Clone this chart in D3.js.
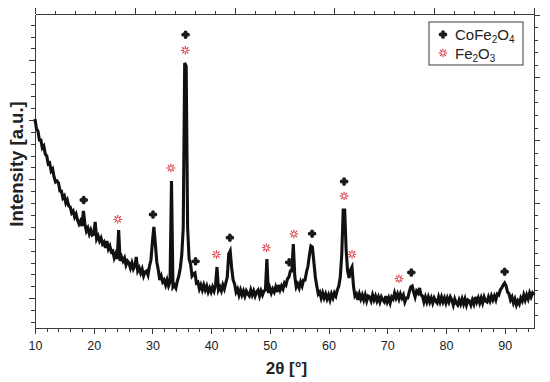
<!doctype html>
<html lang="en">
<head>
  <meta charset="utf-8">
  <title>XRD CoFe2O4 / Fe2O3</title>
  <style type="text/css">
    body{ margin:0; background:#fff; }
    text{ font-family: "Liberation Sans", Arial, Helvetica, sans-serif; fill:#222; }
    .axis path, .axis line{ stroke:#3a3a3a; stroke-width:1; shape-rendering:crispEdges; }
    .axis text{ font-size:12.5px; fill:#222; }
  </style>
</head>
<body>
  <div id="vis"></div>
  <script src="https://cdn.jsdelivr.net/npm/d3@7"></script>
  <script type="text/javascript">

    // scan: 2theta from 10 to 95 deg, step 0.25 (a.u.)
    var scanStart = 10, scanStep = 0.25;
    var intensity = [
      209,199,197,188, 188,180,182,174, 172,164,165,157, 159,151,146,147,
      145,137,137,130, 132,125,128,122, 121,115,117,111, 114,108,104,107,
      102,117,104,97, 100,94,98,93, 94,106,89,92, 87,90,84,86,
      80,87,79,82, 76,77,70,74, 69,98,67,71, 67,70,63,67,
      65,60,65,59, 62,71,57,60, 55,59,52,56, 57,53,62,68,
      86,101,84,66, 58,48,52,46, 48,43,48,42, 46,147,41,43,
      40,47,52,60, 73,100,265,262, 100,69,64,52, 54,55,45,46,
      39,43,38,43, 38,42,36,40, 36,41,37,43, 61,38,41,37,
      43,39,45,51, 74,77,60,48, 44,36,39,33, 38,33,37,32,
      37,34,32,38, 33,37,32,36, 38,32,37,33, 37,38,69,35,
      40,35,39,36, 41,36,43,38, 42,39,45,43, 49,51,57,57,
      84,52,41,44, 40,46,42,48, 48,56,62,73, 82,81,66,51,
      42,34,36,30, 35,30,34,29, 33,28,34,30, 35,32,38,42,
      51,73,118,118, 78,57,50,58, 61,42,32,34, 28,34,29,33,
      28,33,27,32, 31,27,33,28, 32,27,31,26, 31,28,26,32,
      26,30,25,31, 29,35,30,34, 29,34,30,33, 26,30,30,36,
      41,42,36,31, 37,35,40,33, 32,26,31,26, 31,26,30,25,
      30,27,25,31, 26,31,26,30, 25,30,26,31, 28,23,29,25,
      23,28,24,29, 24,29,23,28, 27,23,28,24, 31,26,30,25,
      30,25,31,27, 26,31,27,32, 28,32,28,34, 33,38,40,43,
      45,42,36,34, 28,31,25,29, 23,27,24,30, 27,33,28,33,
      29,35,31,35, 33
    ];

    // phase markers [2theta, height a.u.]
    var cofe2o4Marks = [[18.3,128],[30.1,113.5],[35.65,293.3],[37.35,66.7],[43.2,90.3],
                        [53.3,65.7],[57.2,94.3],[62.65,146.5],[74.1,55.5],[90.0,56.3]];
    var fe2o3Marks = [[24.1,108.7],[33.15,160],[35.6,277.7],[40.9,73.5],[49.4,80.3],
                      [54.1,94],[62.65,132],[64.0,73.7],[72.0,49.3]];

    var xTicks = [10,20,30,40,50,60,70,80,90];
    var xTitle = '2\u03b8 [\u00b0]', yTitle = 'Intensity [a.u.]';
    var legendItems = [{name:['CoFe','2','O','4'], kind:'co'}, {name:['Fe','2','O','3'], kind:'fe'}];

    var width = 550, height = 382;
    var margin = {left:35, right:16, top:14, bottom:54};
    var w = width - margin.left - margin.right, h = height - margin.top - margin.bottom;
    var red = '#d8323c';

    var svg = d3.select('#vis').append('svg').attr('width', width).attr('height', height);
    var g = svg.append('g').attr('transform', 'translate(' + margin.left + ',' + margin.top + ')');

    var x = d3.scaleLinear().domain([10, 95]).range([0, w]);
    var y = d3.scaleLinear().domain([0, 314]).range([h, 0]);

    // unlabeled frame scales (Origin style ticks)
    var topS = d3.scaleLinear().domain([0, 25]).range([0, w]);
    var leftS = d3.scaleLinear().domain([0, 26.4]).range([h, 0]);
    var rightS = d3.scaleLinear().domain([0, 25.06]).range([h, 0]);

    function addAxis(axis, tx, ty){
      return g.append('g').attr('class', 'axis').attr('transform', 'translate(' + tx + ',' + ty + ')').call(axis);
    }

    var xMinor = d3.range(12, 95, 2).filter(function(d){ return d % 10 != 0; });
    addAxis(d3.axisBottom(x).tickValues(xMinor).tickSize(4).tickSizeOuter(0).tickFormat(''), 0, h);
    var bx = addAxis(d3.axisBottom(x).tickValues(xTicks).tickSize(6).tickSizeOuter(0).tickFormat(d3.format('d')), 0, h);
    bx.selectAll('text').attr('y', 13).attr('dy', '0.71em');

    addAxis(d3.axisTop(topS).tickValues(d3.range(0, 26).filter(function(d){ return d % 5 != 0; })).tickSize(3).tickSizeOuter(0).tickFormat(''), 0, 0);
    addAxis(d3.axisTop(topS).tickValues([0,5,10,15,20,25]).tickSize(6).tickSizeOuter(0).tickFormat(''), 0, 0);

    var lv = d3.range(0.5, 26.4, 1);
    addAxis(d3.axisLeft(leftS).tickValues(lv.filter(function(d){ return (d - 2.5) % 5 != 0; })).tickSize(4).tickSizeOuter(0).tickFormat(''), 0, 0);
    addAxis(d3.axisLeft(leftS).tickValues(lv.filter(function(d){ return (d - 2.5) % 5 == 0; })).tickSize(6).tickSizeOuter(0).tickFormat(''), 0, 0);

    var rv = d3.range(1, 26);
    addAxis(d3.axisRight(rightS).tickValues(rv.filter(function(d){ return d % 5 != 0; })).tickSize(4).tickSizeOuter(0).tickFormat(''), w, 0);
    addAxis(d3.axisRight(rightS).tickValues(rv.filter(function(d){ return d % 5 == 0; })).tickSize(6).tickSizeOuter(0).tickFormat(''), w, 0);

    // pattern
    var line = d3.line()
      .x(function(d, i){ return x(scanStart + i * scanStep); })
      .y(function(d){ return y(d); });

    g.append('path')
      .attr('d', line(intensity))
      .style('fill', 'none')
      .style('stroke', '#111')
      .style('stroke-width', 3.1)
      .style('stroke-linejoin', 'miter');

    // markers
    function clover(sel){
      sel.append('circle').attr('cx', 0).attr('cy', -2.4).attr('r', 1.9);
      sel.append('circle').attr('cx', 0).attr('cy', 2.4).attr('r', 1.9);
      sel.append('circle').attr('cx', -2.4).attr('cy', 0).attr('r', 1.9);
      sel.append('circle').attr('cx', 2.4).attr('cy', 0).attr('r', 1.9);
      sel.append('rect').attr('x', -1.4).attr('y', -1.4).attr('width', 2.8).attr('height', 2.8);
      sel.style('fill', '#1a1a1a');
    }
    function star(sel){
      d3.range(8).forEach(function(k){
        var a = k * Math.PI / 4;
        sel.append('line')
          .attr('x1', 1.3 * Math.cos(a)).attr('y1', 1.3 * Math.sin(a))
          .attr('x2', 4.3 * Math.cos(a)).attr('y2', 4.3 * Math.sin(a));
      });
      sel.style('stroke', red).style('stroke-width', 1.1);
    }

    g.selectAll('g.co').data(cofe2o4Marks).enter().append('g').attr('class', 'co')
      .attr('transform', function(d){ return 'translate(' + x(d[0]) + ',' + y(d[1]) + ')'; })
      .each(function(){ clover(d3.select(this)); });

    g.selectAll('g.fe').data(fe2o3Marks).enter().append('g').attr('class', 'fe')
      .attr('transform', function(d){ return 'translate(' + x(d[0]) + ',' + y(d[1]) + ')'; })
      .each(function(){ star(d3.select(this)); });

    // legend
    var lg = g.append('g').attr('transform', 'translate(' + (w - 105) + ',8)');
    lg.append('rect').attr('width', 94).attr('height', 43)
      .style('fill', '#fff').style('stroke', '#3a3a3a').style('stroke-width', 1);
    legendItems.forEach(function(it, i){
      var row = lg.append('g').attr('transform', 'translate(0,' + (12.5 + i * 18.5) + ')');
      var sym = row.append('g').attr('transform', 'translate(14,0)');
      if(it.kind == 'co') clover(sym); else star(sym);
      var t = row.append('text').attr('x', 26).attr('y', 5.5).style('font-size', '15px');
      it.name.forEach(function(s, j){
        var sub = j % 2 == 1;
        t.append('tspan').text(s)
          .attr('dy', sub ? 3 : (j > 0 ? -3 : 0))
          .style('font-size', sub ? '10px' : '15px');
      });
    });

    // titles
    svg.append('text')
      .attr('x', margin.left + w / 2 + 2).attr('y', 374)
      .attr('text-anchor', 'middle')
      .style('font-size', '17px').style('font-weight', 'bold')
      .text(xTitle);

    svg.append('text')
      .attr('transform', 'translate(23,164) rotate(-90)')
      .attr('text-anchor', 'middle')
      .style('font-size', '18.5px').style('font-weight', 'bold')
      .text(yTitle);

  </script>
</body>
</html>
